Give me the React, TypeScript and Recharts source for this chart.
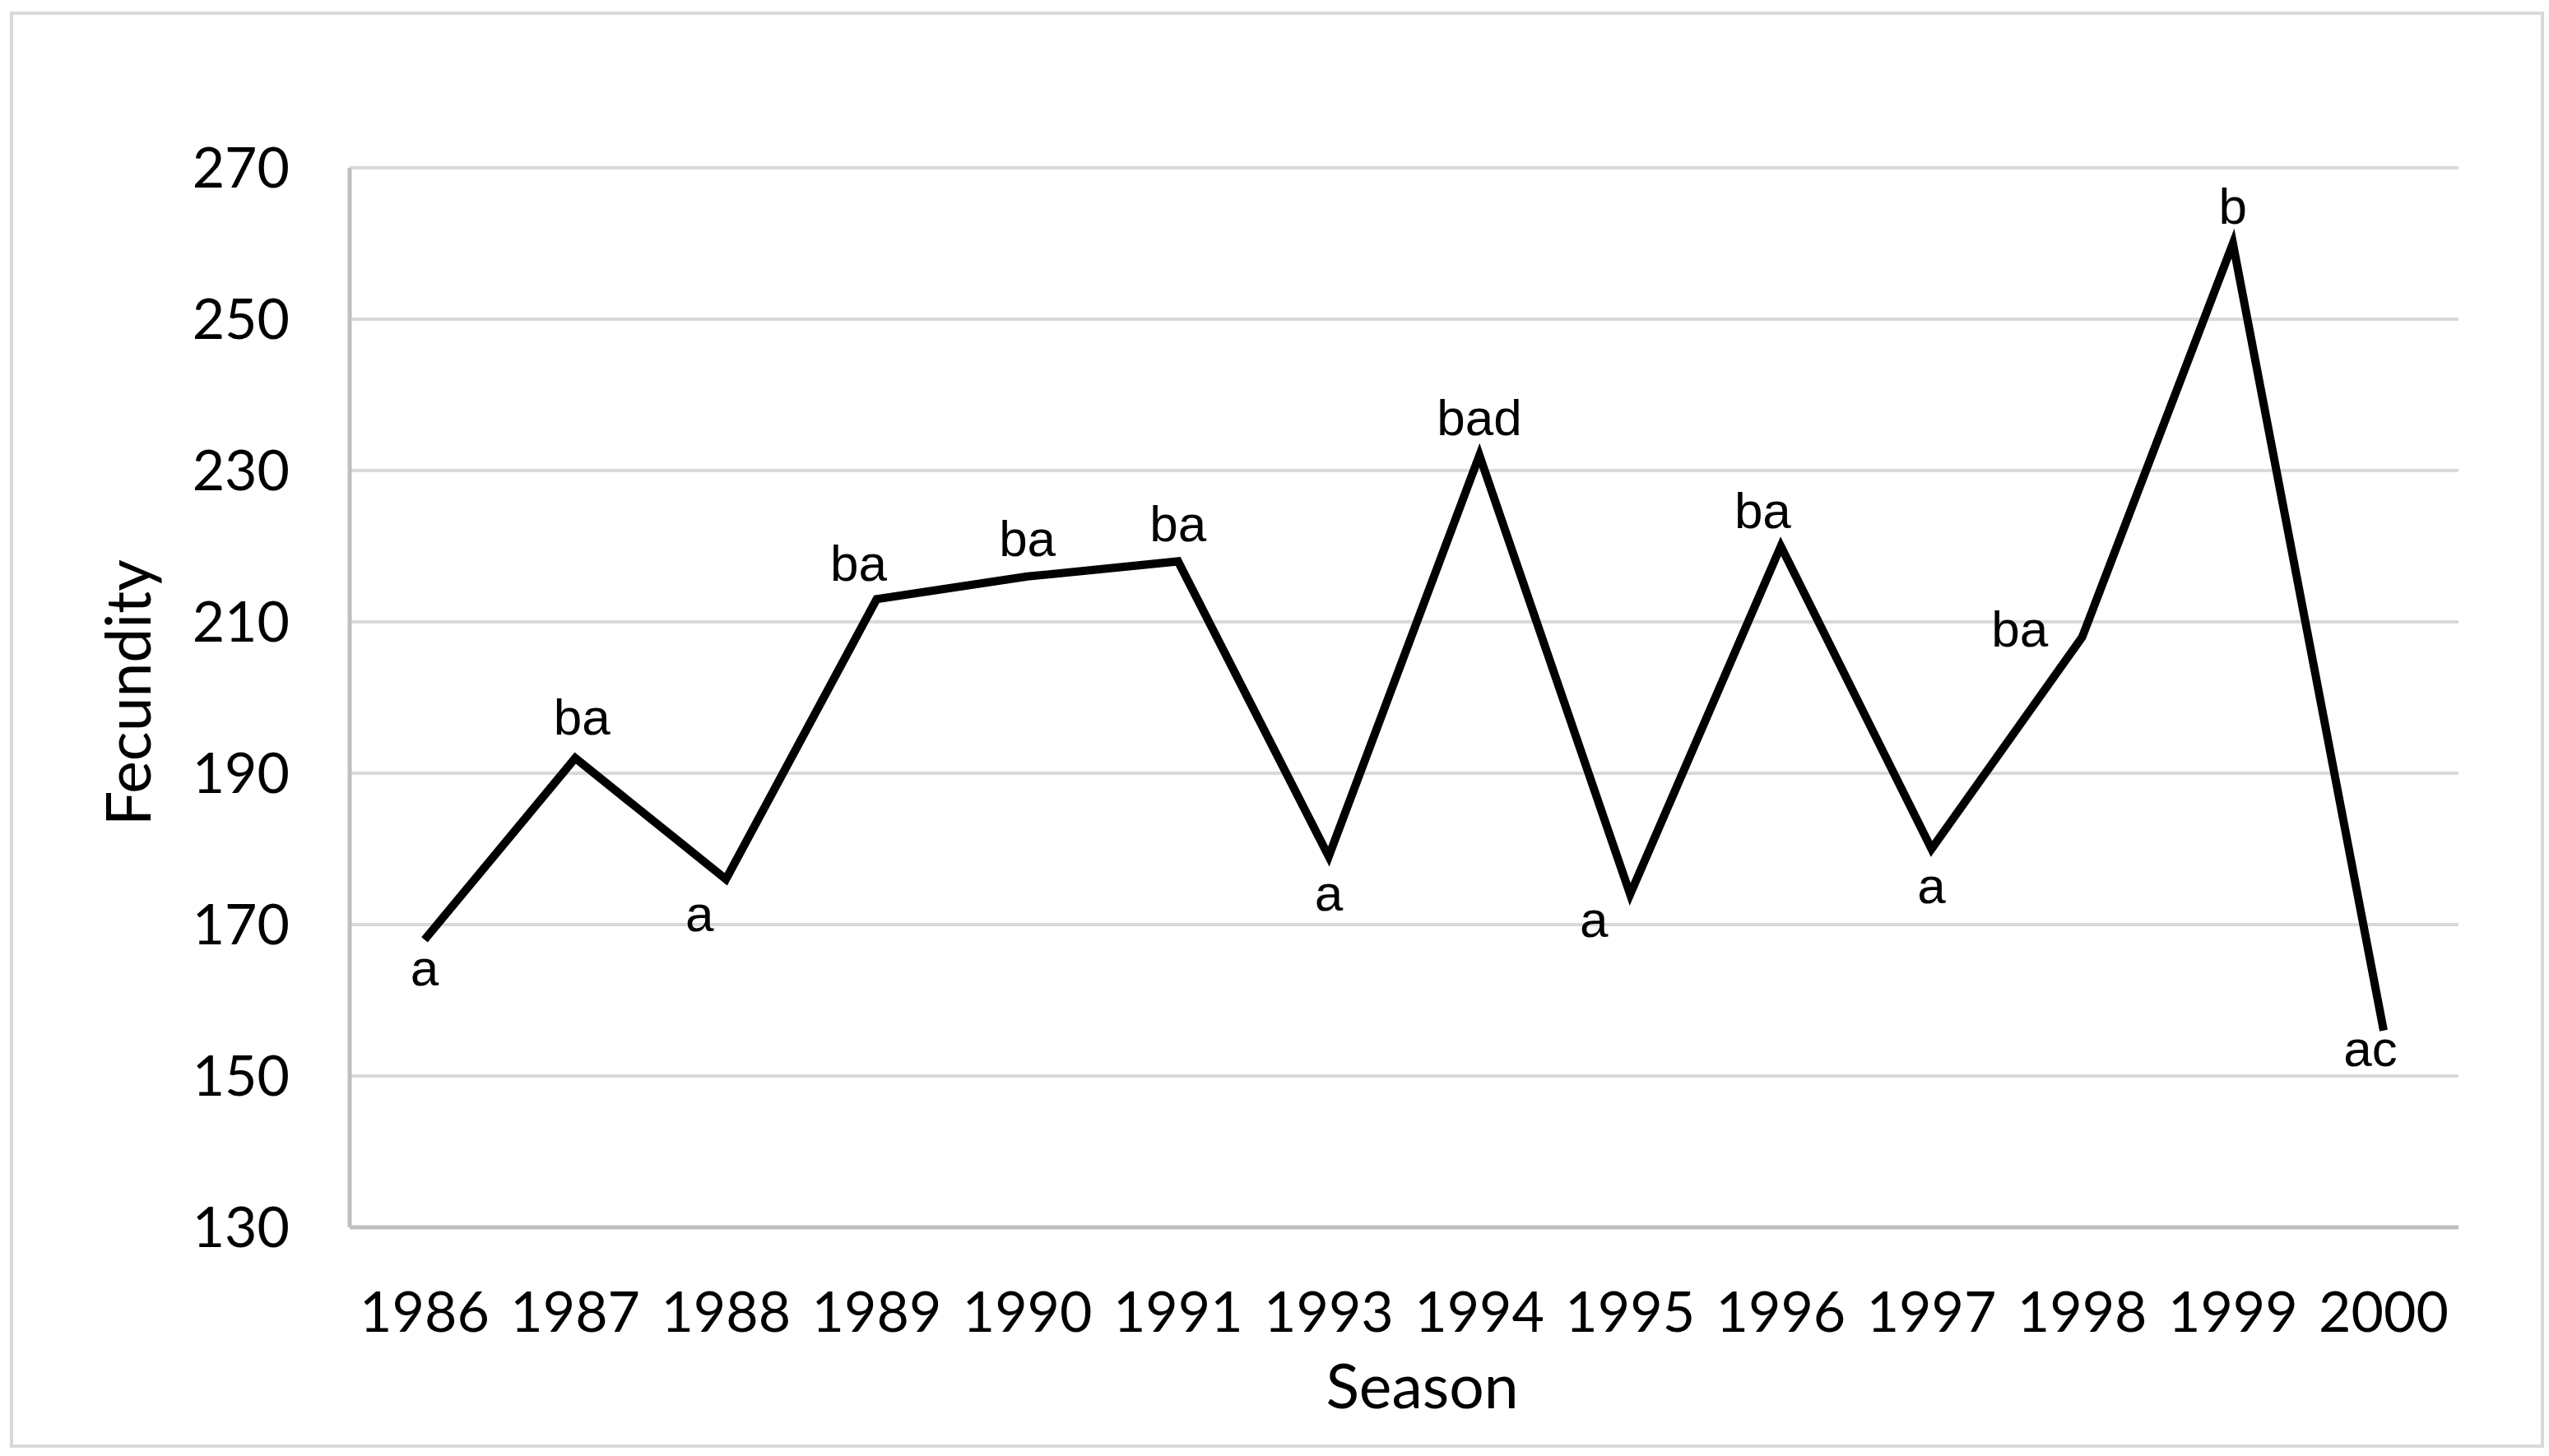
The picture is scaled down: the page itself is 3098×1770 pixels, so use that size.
import { LineChart, Line, XAxis, YAxis, CartesianGrid, LabelList, Label } from "recharts";

const seasons = ["1986", "1987", "1988", "1989", "1990", "1991", "1993", "1994", "1995", "1996", "1997", "1998", "1999", "2000"];
const fecundity = [168, 192, 176, 213, 216, 218, 179, 232, 174, 220, 180, 208, 260, 156];
const letters = ["a", "ba", "a", "ba", "ba", "ba", "a", "bad", "a", "ba", "a", "ba", "b", "ac"];
const yTicks = [130, 150, 170, 190, 210, 230, 250, 270];

const data = seasons.map((s, i) => ({ season: s, fecundity: fecundity[i], letter: letters[i] }));

// where each significance letter sits relative to its point
const PLACE: Record<string, string> = {
  "1986": "nearBelow", "1987": "aboveRight", "1988": "belowLeft", "1989": "aboveLeft", "1990": "above",
  "1991": "above", "1993": "below", "1994": "above", "1995": "farBelowLeft", "1996": "aboveLeft",
  "1997": "below", "1998": "left", "1999": "above", "2000": "nearBelowLeft",
};
const OFFSET: Record<string, [number, number]> = {
  above: [0, -46],
  aboveLeft: [-22, -44],
  aboveRight: [8, -50],
  below: [0, 44],
  nearBelow: [0, 34],
  belowLeft: [-32, 42],
  nearBelowLeft: [-16, 22],
  farBelowLeft: [-44, 30],
  left: [-76, -10],
};

const AXIS_FONT = "Lato, 'Open Sans', sans-serif";

function LetterLabel(props: any) {
  const { x, y, index } = props;
  const place = PLACE[seasons[index]] ?? "above";
  const [dx, dy] = OFFSET[place];
  return (
    <text
      x={x + dx}
      y={y + dy}
      textAnchor="middle"
      dominantBaseline="central"
      fontFamily="'Liberation Sans', Arial, sans-serif"
      fontSize={62}
      fill="#000"
    >
      {letters[index]}
    </text>
  );
}

export default function App() {
  return (
    <div style={{ position: "absolute", left: 0, top: 0, width: 3098, height: 1770, background: "#fff" }}>
      <div
        style={{
          position: "absolute",
          left: 12,
          top: 14,
          width: 3072,
          height: 1738,
          border: "4px solid #d9d9d9",
        }}
      />
      <div style={{ position: "absolute", left: 0, top: 0 }}>
        <LineChart width={3098} height={1770} data={data} margin={{ top: 204, right: 110, left: 0, bottom: 0 }}>
          <CartesianGrid vertical={false} stroke="#d9d9d9" strokeWidth={4} />
          <XAxis
            dataKey="season"
            padding={{ left: 91, right: 91 }}
            axisLine={{ stroke: "#bfbfbf", strokeWidth: 5 }}
            tickLine={false}
            tickSize={0}
            tickMargin={79}
            tick={{ fontSize: 68, fontFamily: AXIS_FONT, fill: "#000" }}
            interval={0}
            height={278}
          >
            <Label
              content={(p: any) => {
                const vb = p.viewBox;
                return (
                  <text
                    x={vb.x + vb.width / 2 + 22}
                    y={1683}
                    textAnchor="middle"
                    dominantBaseline="central"
                    fontFamily={AXIS_FONT}
                    fontSize={75}
                    fill="#000"
                  >
                    Season
                  </text>
                );
              }}
            />
          </XAxis>
          <YAxis
            domain={[130, 270]}
            ticks={yTicks}
            width={425}
            axisLine={{ stroke: "#bfbfbf", strokeWidth: 5 }}
            tickLine={false}
            tickSize={0}
            tickMargin={73}
            tick={{ fontSize: 68, fontFamily: AXIS_FONT, fill: "#000" }}
          >
            <Label
              content={(p: any) => {
                const vb = p.viewBox;
                const cy = vb.y + vb.height / 2 - 6;
                return (
                  <text
                    x={154}
                    y={cy}
                    transform={`rotate(-90 154 ${cy})`}
                    textAnchor="middle"
                    dominantBaseline="central"
                    fontFamily={AXIS_FONT}
                    fontSize={75}
                    fill="#000"
                  >
                    Fecundity
                  </text>
                );
              }}
            />
          </YAxis>
          <Line
            type="linear"
            dataKey="fecundity"
            stroke="#000"
            strokeWidth={10}
            dot={false}
            activeDot={false}
            isAnimationActive={false}
          >
            <LabelList dataKey="letter" content={LetterLabel} />
          </Line>
        </LineChart>
      </div>
    </div>
  );
}
